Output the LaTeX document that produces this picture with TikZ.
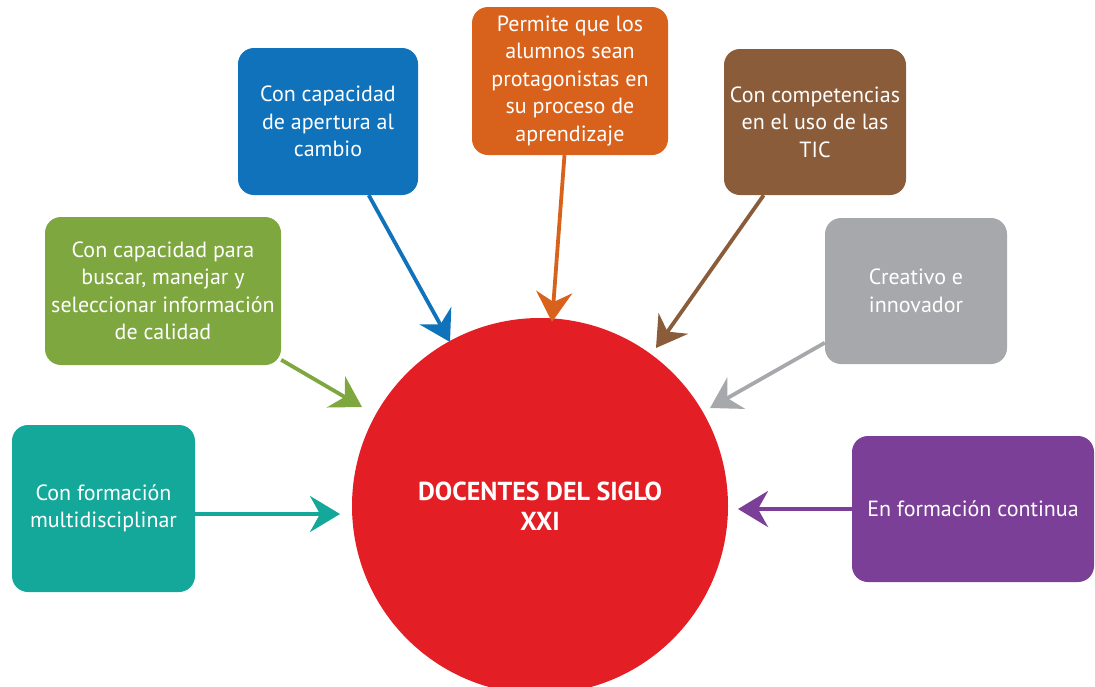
\documentclass[tikz,border=0pt]{standalone}
\usepackage{fontspec}
\setmainfont{PT Sans}
\usetikzlibrary{arrows.meta}
\definecolor{cteal}{HTML}{14A89A}
\definecolor{cgreen}{HTML}{7EA73F}
\definecolor{cblue}{HTML}{1072BA}
\definecolor{corange}{HTML}{D8611C}
\definecolor{cbrown}{HTML}{8A5C3A}
\definecolor{cgray}{HTML}{A7A8AB}
\definecolor{cpurple}{HTML}{7B3F98}
\definecolor{cred}{HTML}{E31E24}
\tikzset{
  box/.style={rounded corners=16pt, text=white, align=center, inner sep=0pt,
    font=\fontsize{22}{27.5}\selectfont},
  arr/.style={line width=3.8pt, -{Stealth[length=30pt,width=36pt,inset=10pt]}},
}
\begin{document}
\begin{tikzpicture}[x=1pt,y=-1pt]
\useasboundingbox (0,0) rectangle (1095,686);
\begin{scope}
\clip (0,0) rectangle (1095,686);
\node[circle, fill=cred, minimum size=376pt, inner sep=0pt, text=white, align=center,
  font=\fontsize{26}{30}\selectfont\bfseries] (c) at (540,506) {DOCENTES DEL SIGLO\\XXI};
\end{scope}
\node[box, fill=cteal, minimum width=183pt, minimum height=167pt] (teal) at (103.5,508.5) {Con formación\\multidisciplinar};
\node[box, fill=cgreen, minimum width=236pt, minimum height=148pt] (green) at (163,291) {Con capacidad para\\buscar, manejar y\\seleccionar información\\de calidad};
\node[box, fill=cblue, minimum width=180pt, minimum height=147pt] (blue) at (328,121.5) {Con capacidad\\de apertura al\\cambio};
\node[box, fill=corange, minimum width=196pt, minimum height=148pt] (orange) at (570,81) {Permite que los\\alumnos sean\\protagonistas en\\su proceso de\\aprendizaje};
\node[box, fill=cbrown, minimum width=182pt, minimum height=146pt] (brown) at (815,122) {Con competencias\\en el uso de las\\TIC};
\node[box, fill=cgray, minimum width=182pt, minimum height=146pt] (gray) at (916,291) {Creativo e\\innovador};
\node[box, fill=cpurple, minimum width=242pt, minimum height=146pt] (purple) at (973,509) {En formación continua};
\coordinate (tteal) at (340,514);
\coordinate (tgreen) at (362,407);
\coordinate (tblue) at (450,342);
\coordinate (torange) at (552,322);
\coordinate (tbrown) at (656,348);
\coordinate (tgray) at (710,408);
\coordinate (tpurple) at (738,509);
\draw[arr, cteal] (teal.east |- tteal) -- (tteal);
\draw[arr, cgreen] (green) -- (tgreen);
\draw[arr, cblue] (blue) -- (tblue);
\draw[arr, corange] (orange) -- (torange);
\draw[arr, cbrown] (brown) -- (tbrown);
\draw[arr, cgray] (gray) -- (tgray);
\draw[arr, cpurple] (purple) -- (tpurple);
\end{tikzpicture}
\end{document}
